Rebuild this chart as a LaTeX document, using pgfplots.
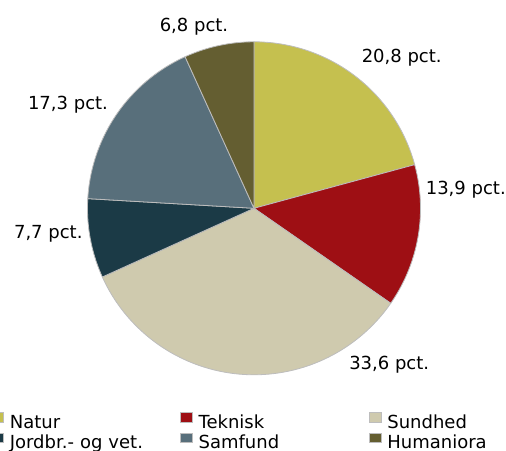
\documentclass[border=0pt]{standalone}
\usepackage{pgfplots}
\pgfplotsset{compat=1.18}
\usepackage{fontspec}
\setmainfont{DejaVu Sans}
\definecolor{cNatur}{HTML}{C5C04F}
\definecolor{cTeknisk}{HTML}{9E0F14}
\definecolor{cSundhed}{HTML}{CFCAAE}
\definecolor{cJordbr}{HTML}{1B3A46}
\definecolor{cSamfund}{HTML}{586F7B}
\definecolor{cHuman}{HTML}{645E31}
\definecolor{cEdge}{HTML}{BDBDBD}
% shares (pct.)
\pgfmathsetmacro\vNatur{20.8}
\pgfmathsetmacro\vTeknisk{13.9}
\pgfmathsetmacro\vSundhed{33.6}
\pgfmathsetmacro\vJordbr{7.7}
\pgfmathsetmacro\vSamfund{17.3}
\pgfmathsetmacro\vHuman{6.8}
\pgfmathsetmacro\pieTot{\vNatur+\vTeknisk+\vSundhed+\vJordbr+\vSamfund+\vHuman}
\pgfmathsetmacro\pieK{360/\pieTot}
\pgfmathsetmacro\aA{90}
\pgfmathsetmacro\aB{\aA-\vNatur*\pieK}
\pgfmathsetmacro\aC{\aB-\vTeknisk*\pieK}
\pgfmathsetmacro\aD{\aC-\vSundhed*\pieK}
\pgfmathsetmacro\aE{\aD-\vJordbr*\pieK}
\pgfmathsetmacro\aF{\aE-\vSamfund*\pieK}
\pgfmathsetmacro\aG{\aF-\vHuman*\pieK}
\def\R{166.5}
\begin{document}
\begin{tikzpicture}[x=1pt,y=1pt]
\useasboundingbox (0,0) rectangle (506,450);
\clip (0,0) rectangle (506,450);
\begin{axis}[
  at={(0,0)}, anchor=south west,
  x=1pt, y=1pt,
  xmin=-254, xmax=252, ymin=-241.7, ymax=208.3,
  hide axis, clip=false,
  legend columns=3,
  legend image code/.code={\path[#1, line width=0.4pt] (0pt,1.5pt) rectangle (11.8pt,11.3pt);},
  legend style={at={(axis cs:-262.7,-203.7)}, anchor=north west,
    draw=none, fill=none, inner sep=0pt, outer sep=0pt,
    row sep=0.5pt, column sep=0pt,
    font=\fontsize{18}{21.6}\selectfont,
    nodes={text width=164pt, inner xsep=6.3pt, inner ysep=0pt,
      text height=13pt, text depth=4pt, align=left}},
  every axis plot/.append style={draw=cEdge, line width=0.8pt, samples=90, variable=\t},
]
\addplot[fill=cNatur, domain=\aB:\aA] ({\R*cos(\t)},{\R*sin(\t)}) -- (axis cs:0,0) -- cycle;
\addlegendentry{Natur}
\addplot[fill=cTeknisk, domain=\aC:\aB] ({\R*cos(\t)},{\R*sin(\t)}) -- (axis cs:0,0) -- cycle;
\addlegendentry{Teknisk}
\addplot[fill=cSundhed, domain=\aD:\aC] ({\R*cos(\t)},{\R*sin(\t)}) -- (axis cs:0,0) -- cycle;
\addlegendentry{Sundhed}
\addplot[fill=cJordbr, domain=\aE:\aD] ({\R*cos(\t)},{\R*sin(\t)}) -- (axis cs:0,0) -- cycle;
\addlegendentry{Jordbr.- og vet.}
\addplot[fill=cSamfund, domain=\aF:\aE] ({\R*cos(\t)},{\R*sin(\t)}) -- (axis cs:0,0) -- cycle;
\addlegendentry{Samfund}
\addplot[fill=cHuman, domain=\aG:\aF] ({\R*cos(\t)},{\R*sin(\t)}) -- (axis cs:0,0) -- cycle;
\addlegendentry{Humaniora}
\begin{scope}[every node/.style={font=\fontsize{18}{21.6}\selectfont, anchor=base, inner sep=0pt}]
\node at (axis cs:147.7,146) {20,8 pct.};
\node at (axis cs:211.8,14) {13,9 pct.};
\node at (axis cs:135.2,-161) {33,6 pct.};
\node at (axis cs:-205.7,-30) {7,7 pct.};
\node at (axis cs:-186,99) {17,3 pct.};
\node at (axis cs:-60,176.6) {6,8 pct.};
\end{scope}
\end{axis}
\end{tikzpicture}
\end{document}
